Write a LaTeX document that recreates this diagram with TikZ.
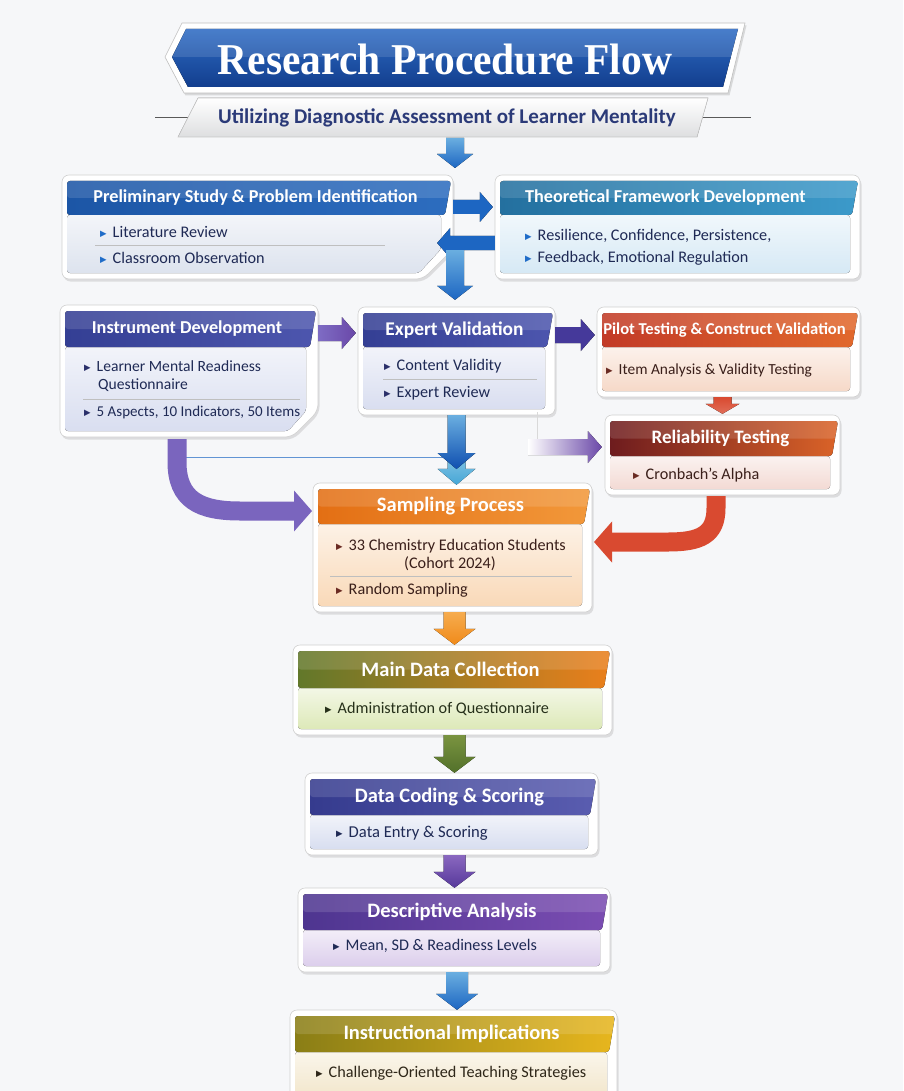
\documentclass[tikz,border=0pt]{standalone}
\usepackage{fontspec}
\setmainfont{Carlito}
\newfontfamily\titlefont{Liberation Serif}
\newfontfamily\dejavu{DejaVu Sans}
\usetikzlibrary{calc,shadows,arrows.meta}
\definecolor{bgcol}{HTML}{F6F7F9}
\definecolor{titleA}{HTML}{2F6CC4}
\definecolor{titleB}{HTML}{123E8E}
\definecolor{subtxt}{HTML}{2B3A78}
\definecolor{txtblue}{HTML}{1F2A55}
\definecolor{txtbrown}{HTML}{3A1F1A}
\definecolor{txtgreen}{HTML}{26301A}
\definecolor{txtgold}{HTML}{2E2618}
\definecolor{bulblue}{HTML}{1F6CC8}
\definecolor{bulnavy}{HTML}{2A2F6A}
\definecolor{bulbrown}{HTML}{6A2A22}
% header colours
\definecolor{hAl}{HTML}{1C56A6}\definecolor{hAr}{HTML}{2D6DBF}
\definecolor{hBl}{HTML}{24709F}\definecolor{hBr}{HTML}{3C9ACA}
\definecolor{hCl}{HTML}{343F94}\definecolor{hCr}{HTML}{4D56AE}
\definecolor{hEl}{HTML}{C23A27}\definecolor{hEr}{HTML}{E2692C}
\definecolor{hFl}{HTML}{6E1C1E}\definecolor{hFr}{HTML}{DA6328}
\definecolor{hGl}{HTML}{E36F14}\definecolor{hGr}{HTML}{F2983A}
\definecolor{hHl}{HTML}{62782A}\definecolor{hHr}{HTML}{EA7F1C}
\definecolor{hIl}{HTML}{353B8E}\definecolor{hIr}{HTML}{5A5DB0}
\definecolor{hJl}{HTML}{4E3590}\definecolor{hJr}{HTML}{7B4DB2}
\definecolor{hKl}{HTML}{8A7E16}\definecolor{hKr}{HTML}{E7B61E}
% body colours
\definecolor{bA}{HTML}{DDE3EE}
\definecolor{bB}{HTML}{D6E9F5}
\definecolor{bC}{HTML}{D9DEF0}
\definecolor{bE}{HTML}{F6D9C8}
\definecolor{bF}{HTML}{F3DAD4}
\definecolor{bG}{HTML}{F9D9B8}
\definecolor{bH}{HTML}{DDE9B8}
\definecolor{bI}{HTML}{D8DEF0}
\definecolor{bJ}{HTML}{DCCEEC}
\definecolor{bK}{HTML}{F1E4C6}
% arrows
\definecolor{arBlueL}{HTML}{6AAEE0}\definecolor{arBlue}{HTML}{1D66C2}
\definecolor{arBlueD}{HTML}{0F4FB0}\definecolor{arCyan}{HTML}{45A6D6}
\definecolor{arPurpL}{HTML}{7E6CC4}\definecolor{arPurp}{HTML}{6A48A8}
\definecolor{arInd}{HTML}{45399A}
\definecolor{arRed}{HTML}{D94A30}\definecolor{arRedD}{HTML}{B82E2A}
\definecolor{arOrg}{HTML}{F08A1A}\definecolor{arOrgL}{HTML}{F6AC4E}
\definecolor{arGrn}{HTML}{52702A}\definecolor{arGrnL}{HTML}{7A9440}
\definecolor{arPur2}{HTML}{56389A}\definecolor{arPur2L}{HTML}{8A68C0}

\def\sw{9pt}\def\hw{18pt}\def\hl{14pt}
% vertical (downward) arrow
\newcommand\varr[4]{\fill[top color=#3,bottom color=#4] let \p1=(#1),\p2=(#2) in
  (\x1-\sw,\y1) -- (\x1+\sw,\y1) -- (\x1+\sw,\y2+\hl) -- (\x1+\hw,\y2+\hl) -- (\x1,\y2)
  -- (\x1-\hw,\y2+\hl) -- (\x1-\sw,\y2+\hl) -- cycle;}
% rightward arrow
\newcommand\rarr[4]{\fill[left color=#3,right color=#4] let \p1=(#1),\p2=(#2) in
  (\x1,\y1-\sw) -- (\x2-\hl,\y1-\sw) -- (\x2-\hl,\y1-\hw) -- (\x2,\y1) -- (\x2-\hl,\y1+\hw)
  -- (\x2-\hl,\y1+\sw) -- (\x1,\y1+\sw) -- cycle;}
% leftward arrow
\newcommand\larr[4]{\fill[right color=#3,left color=#4] let \p1=(#1),\p2=(#2) in
  (\x1,\y1-\sw) -- (\x2+\hl,\y1-\sw) -- (\x2+\hl,\y1-\hw) -- (\x2,\y1) -- (\x2+\hl,\y1+\hw)
  -- (\x2+\hl,\y1+\sw) -- (\x1,\y1+\sw) -- cycle;}

\def\cut{0}
% stage box: name, x1, y1, x2, y2, header bottom, header left, header right, body colour
\newcommand\stg[9]{%
  \ifnum\cut>0
    \filldraw[outerbox] (#2,#3) -- (#4,#3) -- (#4,#5-\cut) -- (#4-\cut,#5) -- (#2,#5) -- cycle;
    \fill[top color=#9!35!white,bottom color=#9,rounded corners=3pt]
      (#2+5,#6) -- (#4-12,#6) -- (#4-12,#5-\cut) -- (#4-\cut-4,#5-6) -- (#2+5,#5-6) -- cycle;
  \else
    \filldraw[outerbox] (#2,#3) rectangle (#4,#5);
    \fill[top color=#9!35!white,bottom color=#9,rounded corners=3pt]
      (#2+5,#6) -- (#4-10,#6) -- (#4-10,#5-6) -- (#2+5,#5-6) -- cycle;
  \fi
  \fill[left color=#7,right color=#8,rounded corners=3pt]
    (#2+5,#3+6) -- (#4-2,#3+6) -- (#4-8,#6) -- (#2+5,#6) -- cycle;
  \fill[white,opacity=0.13,rounded corners=3pt]
    (#2+5,#3+6) -- (#4-2,#3+6) -- (#4-4,{(#3+6+#6)/2}) -- (#2+5,{(#3+6+#6)/2}) -- cycle;
  \coordinate (#1-h) at ({(#2+#4)/2-2},{(#3+6+#6)/2});
  \node[inner sep=0,minimum width={(#4-#2)*1pt},minimum height={(#5-#3)*1pt}] (#1)
    at ({(#2+#4)/2},{(#3+#5)/2}) {};
}
\newcommand\bul[1]{{\dejavu\fontsize{8.5}{9}\selectfont\color{#1}\raisebox{1pt}{▶}}\hspace{6pt}}

\begin{document}
\begin{tikzpicture}[x=1pt,y=-1pt,
  outerbox/.style={fill=white,draw=black!18,line width=0.6pt,rounded corners=7pt,
    drop shadow={opacity=0.22,shadow xshift=1.5pt,shadow yshift=-2.5pt}},
  hdr/.style={text=white,font=\bfseries\fontsize{18.2}{20}\selectfont,inner sep=0},
  hdrL/.style={text=white,font=\bfseries\fontsize{20.5}{22}\selectfont,inner sep=0},
  txt/.style={anchor=west,inner sep=0,font=\fontsize{16.2}{18}\selectfont,text=txtblue},
  txtL/.style={anchor=west,inner sep=0,font=\fontsize{16.2}{18}\selectfont},
  sepline/.style={draw=black!25,line width=0.7pt},
  thinline/.style={draw=#1,line width=0.9pt}]
\clip (0,0) rectangle (903,1091);
\useasboundingbox (0,0) rectangle (903,1091);
\fill[bgcol] (0,0) rectangle (903,1091);

% ---------- title ----------
\filldraw[fill=white,draw=black!25,line width=0.6pt,
  drop shadow={opacity=0.25,shadow xshift=1.5pt,shadow yshift=-2.5pt}]
  (182,23) -- (745,23) -- (728,93) -- (184,93) -- (165,57) -- cycle;
\fill[top color=titleA,bottom color=titleB]
  (186,29) -- (738,29) -- (723,87) -- (188,87) -- (172,57) -- cycle;
\fill[white,opacity=0.12] (186,29) -- (738,29) -- (731,57) -- (172,57) -- cycle;
\node[text=white,font=\titlefont\bfseries\fontsize{41.5}{44}\selectfont,inner sep=0]
  (title) at (445,60) {\scalebox{1}[1.06]{Research Procedure Flow}};

% ---------- subtitle ----------
\draw[thinline=black!65] (155,117) -- (196,117);
\draw[thinline=black!65] (689,117) -- (751,117);
\filldraw[top color=white,bottom color=black!10!bgcol,draw=black!22,line width=0.6pt]
  (198,98) -- (708,98) -- (697,137) -- (178,137) -- cycle;
\node[text=subtxt,font=\bfseries\fontsize{21}{23}\selectfont,inner sep=0]
  (sub) at (447,118) {Utilizing Diagnostic Assessment of Learner Mentality};
\coordinate (sub-s) at (455,138);
\coordinate (a-top) at (455,168);

% ---------- boxes ----------
\def\cut{30}
\stg{A}{62}{175}{453}{279}{215}{hAl}{hAr}{bA}
\def\cut{0}
\stg{B}{495}{175}{860}{279}{215}{hBl}{hBr}{bB}
\def\cut{26}
\stg{C}{60}{305}{318}{437}{347}{hCl}{hCr}{bC}
\def\cut{0}
\stg{D}{358}{307}{555}{415}{347}{hCl}{hCr}{bC}
\stg{E}{597}{307}{860}{397}{347}{hEl}{hEr}{bE}
\stg{F}{605}{415}{840}{495}{456}{hFl}{hFr}{bF}
\stg{G}{313}{483}{592}{612}{524}{hGl}{hGr}{bG}
\stg{H}{293}{645}{612}{735}{688}{hHl}{hHr}{bH}
\stg{I}{305}{773}{598}{855}{815}{hIl}{hIr}{bI}
\stg{J}{298}{888}{610}{972}{930}{hJl}{hJr}{bJ}
\stg{K}{290}{1010}{617}{1110}{1052}{hKl}{hKr}{bK}

% ---------- headers ----------
\node[hdr] (A-t) at (A-h) {Preliminary Study \& Problem Identification};
\node[hdr] (B-t) at ($(B-h)+(-10,0)$) {Theoretical Framework Development};
\node[hdr] (C-t) at (C-h) {Instrument Development};
\node[hdr,font=\bfseries\fontsize{19.4}{21}\selectfont] (D-t) at (D-h) {Expert Validation};
\node[hdr,font=\bfseries\fontsize{16.6}{18}\selectfont] (E-t) at ($(E-h)+(-2,0)$) {Pilot Testing \& Construct Validation};
\node[hdr,font=\bfseries\fontsize{19}{21}\selectfont] (F-t) at (F-h) {Reliability Testing};
\node[hdr,font=\bfseries\fontsize{20.5}{22}\selectfont] (G-t) at (G-h) {Sampling Process};
\node[hdrL] (H-t) at (H-h) {Main Data Collection};
\node[hdrL] (I-t) at (I-h) {Data Coding \& Scoring};
\node[hdrL] (J-t) at (J-h) {Descriptive Analysis};
\node[hdrL] (K-t) at (K-h) {Instructional Implications};

% ---------- body texts ----------
\node[txt] (A-1) at (100,232) {\bul{bulblue}Literature Review};
\draw[sepline] (95,245) -- (385,245);
\node[txt] (A-2) at (100,258) {\bul{bulblue}Classroom Observation};
\node[txt] (B-1) at (525,236) {\bul{bulblue}Resilience, Confidence, Persistence,};
\node[txt] (B-2) at (525,258) {\bul{bulblue}Feedback, Emotional Regulation};
\node[txt,font=\fontsize{15.6}{17}\selectfont] (C-1) at (84,366) {\bul{bulnavy}Learner Mental Readiness};
\node[txt,font=\fontsize{15.6}{17}\selectfont] (C-1b) at (98,385) {Questionnaire};
\draw[sepline] (83,399) -- (300,399);
\node[txt,font=\fontsize{15}{17}\selectfont] (C-2) at (84,412) {\bul{bulnavy}5 Aspects, 10 Indicators, 50 Items};
\node[txt] (D-1) at (384,366) {\bul{bulnavy}Content Validity};
\draw[sepline] (383,379) -- (537,379);
\node[txt] (D-2) at (384,393) {\bul{bulnavy}Expert Review};
\node[txt,text=txtbrown,font=\fontsize{15.4}{17}\selectfont] (E-1) at (606,370) {\bul{bulbrown}Item Analysis \& Validity Testing};
\node[txt,text=txtbrown] (F-1) at (633,475) {\bul{bulbrown}Cronbach's Alpha};
\node[txt,text=txtbrown] (G-1) at (336,546) {\bul{bulbrown}33 Chemistry Education Students};
\node[txt,text=txtbrown,anchor=center] (G-1b) at (450,564) {(Cohort 2024)};
\draw[sepline] (330,576) -- (572,576);
\node[txt,text=txtbrown] (G-2) at (336,590) {\bul{bulbrown}Random Sampling};
\node[txtL,text=txtgreen] (H-1) at (325,709) {\bul{txtgreen}Administration of Questionnaire};
\node[txtL,text=txtblue,font=\fontsize{16.6}{18}\selectfont] (I-1) at (336,833) {\bul{txtblue}Data Entry \& Scoring};
\node[txtL,text=txtblue] (J-1) at (333,946) {\bul{txtblue}Mean, SD \& Readiness Levels};
\node[txtL,text=txtgold] (K-1) at (316,1073) {\bul{txtgold}Challenge-Oriented Teaching Strategies};

% ---------- connectors ----------
\coordinate (ab-s) at (455,250);
\coordinate (cg-s) at (177,439);
\coordinate (cg-e) at (312,511);
\coordinate (fg-s) at (716,496);
\coordinate (fg-e) at (594,542);
\coordinate (hl-s) at (177,457);
\coordinate (hl-e) at (446,457);
\coordinate (df-s) at (528,447);
\coordinate (df-v) at (537,412);
\coordinate (dg-m) at (456.5,469);
\coordinate (dg-l) at (456.5,459);

\varr{sub-s}{a-top}{arBlueL}{arBlue}
\def\sw{7pt}\def\hw{15pt}\def\hl{13pt}
\rarr{$(A.east)+(0,-20)$}{$(B.west)+(-2,0)$}{arBlue}{arBlue}
\larr{$(B.west)+(0,16)$}{$(A.east)+(-16,0)$}{arBlue}{arBlue}
\def\sw{9pt}\def\hw{18pt}\def\hl{14pt}
\varr{ab-s}{$(D.north)+(0,-7)$}{arBlueL}{arBlue}
\def\sw{8pt}\def\hw{16pt}\def\hl{14pt}
\rarr{$(C.east)+(0,-38)$}{$(D.west)+(-2,0)$}{arPurpL}{arPurp}
\rarr{$(D.east)+(0,-26)$}{$(E.west)+(-2,0)$}{arInd}{arInd}
\def\sw{9pt}\def\hw{17pt}\def\hl{10pt}
\varr{$(E.south)+(-6,0)$}{$(F.north)+(0,-1)$}{arRed}{arRed!80!white}
\def\sw{8pt}\def\hw{16pt}\def\hl{14pt}
\draw[black!15,line width=0.7pt] (df-v) -- (df-v |- df-s);
\rarr{df-s}{$(F.west)+(-3,0)$}{white}{arPurp}
\draw[thinline=arBlue!70] (hl-s) -- (hl-e);
\def\sw{9pt}\def\hw{19pt}\def\hl{16pt}
\varr{dg-l}{$(G.north)+(0,2)$}{arCyan!70!white}{arCyan}
\varr{D.south}{dg-m}{arBlueL}{arBlueD}
% curved arrows
\draw[line width=19pt,arPurpL!80!arPurp,-{Triangle[width=40pt,length=18pt]}]
  (cg-s) -- (177,462) .. controls (177,500) and (200,511) .. (240,511) -- (cg-e);
\draw[line width=19pt,arRed,-{Triangle[width=40pt,length=18pt]}]
  (fg-s) -- (716,508) .. controls (716,535) and (700,542) .. (668,542) -- (fg-e);
% lower chain
\def\sw{11pt}\def\hw{21pt}\def\hl{16pt}
\varr{$(G.south)+(2,0)$}{H.north}{arOrgL}{arOrg}
\varr{$(H.south)+(2,0)$}{I.north}{arGrnL}{arGrn}
\varr{$(I.south)+(3,0)$}{J.north}{arPur2L}{arPur2}
\varr{$(J.south)+(3,0)$}{K.north}{arBlueL}{arBlue}
\end{tikzpicture}
\end{document}
